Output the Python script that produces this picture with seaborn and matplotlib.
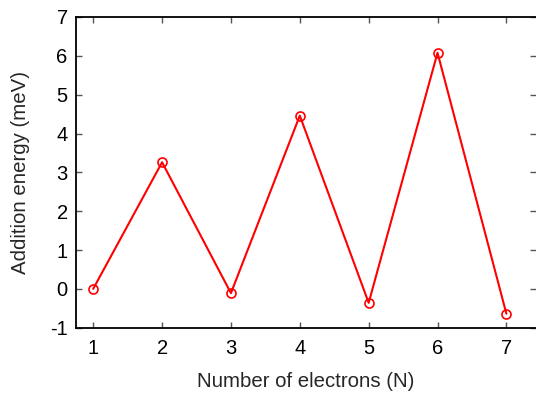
import matplotlib
matplotlib.use("Agg")
import matplotlib.pyplot as plt
import pandas as pd
import seaborn as sns

# addition energy vs electron number
n_electrons = [1, 2, 3, 4, 5, 6, 7]
addition_energy = [0.0, 3.26, -0.11, 4.46, -0.36, 6.08, -0.64]

sns.set_style("ticks")
plt.rcParams["font.family"] = ["Liberation Sans", "DejaVu Sans"]
plt.rcParams["axes.unicode_minus"] = False

df = pd.DataFrame({"N": n_electrons, "E": addition_energy})

fig = plt.figure(figsize=(5.36, 3.93), dpi=100)
ax = fig.add_axes([76 / 536, 1 - 327.7 / 393, 460 / 536, (327.7 - 17) / 393])

sns.lineplot(data=df, x="N", y="E", ax=ax, color="red", linewidth=1.5,
             marker="o", markersize=6.5, markerfacecolor="none",
             markeredgecolor="red", markeredgewidth=1.2)

ax.set_xlim(0.75, 7.43)
ax.set_ylim(-1, 7)
ax.set_xticks(n_electrons)
ax.set_yticks(range(-1, 8))
ax.tick_params(direction="in", length=4, width=1, colors="#555555",
               labelcolor="black", labelsize=14.5, top=True, right=True)
ax.tick_params(axis="x", pad=8)
ax.tick_params(axis="y", pad=6)
for s in ax.spines.values():
    s.set_linewidth(1.3)
    s.set_color("black")
ax.spines["right"].set_visible(False)

ax.set_xlabel("Number of electrons (N)", fontsize=14.7, labelpad=10.5)
ax.set_ylabel("Addition energy (meV)", fontsize=14.7, labelpad=14)

fig.savefig("out.png", dpi=100)
